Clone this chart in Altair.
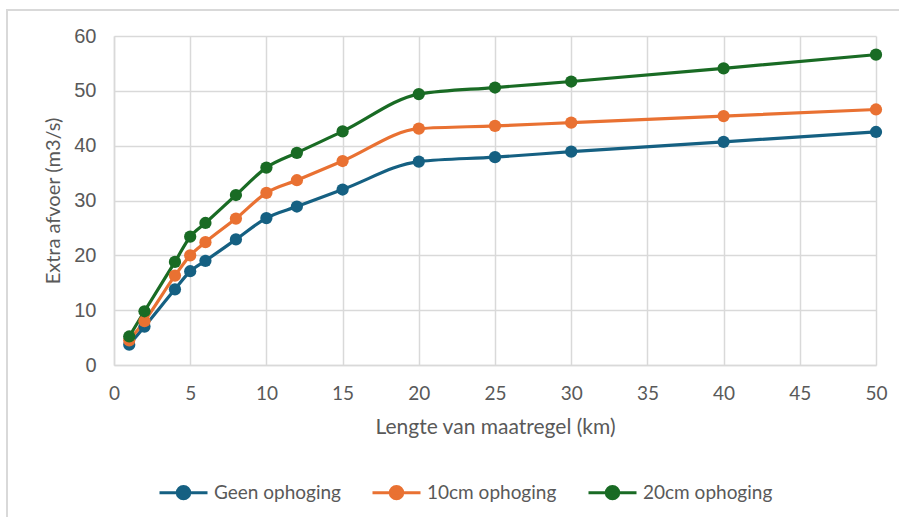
import altair as alt
import pandas as pd

lengths = [1, 2, 4, 5, 6, 8, 10, 12, 15, 20, 25, 30, 40, 50]
geen = [3.7, 7.0, 13.8, 17.1, 19.0, 22.9, 26.8, 28.9, 32.0, 37.1, 37.9, 38.9, 40.7, 42.5]
cm10 = [4.5, 8.0, 16.3, 20.0, 22.4, 26.7, 31.4, 33.7, 37.2, 43.1, 43.6, 44.2, 45.4, 46.6]
cm20 = [5.2, 9.8, 18.8, 23.4, 25.9, 31.0, 36.0, 38.7, 42.6, 49.4, 50.6, 51.7, 54.1, 56.6]
series_names = ["Geen ophoging", "10cm ophoging", "20cm ophoging"]
series_colors = ["#156082", "#E97132", "#196B24"]

rows = []
for name, vals in zip(series_names, [geen, cm10, cm20]):
    for x, y in zip(lengths, vals):
        rows.append({"Lengte": x, "Afvoer": y, "Serie": name})
df = pd.DataFrame(rows)

W, H = 762, 329
PL, PT = 114, 36
FONT = "Lato"
TXT = "#595959"

color = alt.Color(
    "Serie:N",
    scale=alt.Scale(domain=series_names, range=series_colors),
    sort=series_names,
    legend=alt.Legend(
        title=None,
        orient="none",
        direction="horizontal",
        legendX=44,
        legendY=431,
        symbolType="M-1,0 L1,0 M-0.26,0 A0.26,0.26 0 1,0 0.26,0 A0.26,0.26 0 1,0 -0.26,0 Z",
        symbolSize=2304,
        symbolStrokeWidth=3,
        labelFontSize=19,
        labelFont=FONT,
        labelColor=TXT,
        labelOffset=5,
        columnPadding=25,
    ),
)

x = alt.X(
    "Lengte:Q",
    scale=alt.Scale(domain=[0, 50], nice=False),
    axis=alt.Axis(
        values=list(range(0, 51, 5)),
        title="Lengte van maatregel (km)",
        titleFontSize=21,
        titleFont=FONT,
        titleFontWeight="normal",
        titleColor=TXT,
        titlePadding=13,
        labelFontSize=19,
        labelFont=FONT,
        labelColor=TXT,
        labelPadding=19,
        ticks=False,
        domainColor="#d9d9d9",
        domainWidth=1.5,
        gridColor="#d9d9d9",
        gridWidth=1.5,
        labelFlush=False,
    ),
)
y = alt.Y(
    "Afvoer:Q",
    scale=alt.Scale(domain=[0, 60], nice=False),
    axis=alt.Axis(
        values=list(range(0, 61, 10)),
        title="Extra afvoer (m3/s)",
        titleFontSize=20,
        titleFont=FONT,
        titleFontWeight="normal",
        titleColor=TXT,
        titlePadding=10,
        labelFontSize=20,
        labelFont="Liberation Sans",
        labelColor=TXT,
        labelPadding=18,
        ticks=False,
        domainColor="#d9d9d9",
        domainWidth=1.5,
        gridColor="#d9d9d9",
        gridWidth=1.5,
    ),
)

frame = alt.Chart(pd.DataFrame({"a": [0]})).mark_rect(
    fillOpacity=0, stroke="#d9d9d9", strokeWidth=2, clip=False
).encode(
    x=alt.value(-107), x2=alt.value(W + 40),
    y=alt.value(-26), y2=alt.value(H + 200),
)

base = alt.Chart(df)
lines = base.mark_line(strokeWidth=3.2, interpolate="monotone").encode(
    x=x, y=y, color=color, order="Lengte:Q"
)
points = base.mark_point(filled=True, size=150, opacity=1).encode(
    x="Lengte:Q", y="Afvoer:Q", color=color
)

chart = alt.layer(lines, points, frame).properties(
    width=W, height=H,
    padding={"left": PL, "top": PT, "right": 899 - PL - W, "bottom": 517 - PT - H},
    autosize=alt.AutoSizeParams(type="none"),
    background="white",
).configure_view(stroke=None)

chart.save("out.html", embed_options={"renderer": "svg", "actions": False})
